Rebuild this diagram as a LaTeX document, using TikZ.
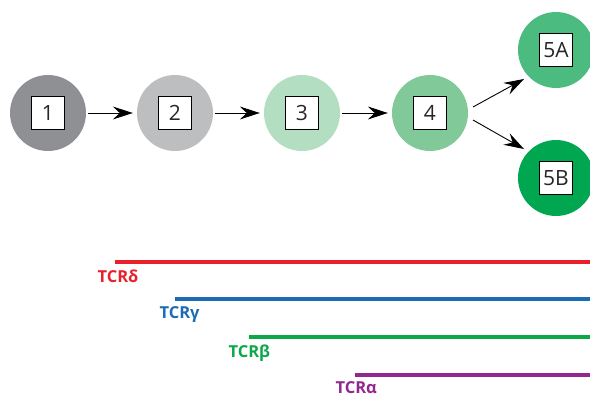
\documentclass[tikz,border=0pt]{standalone}
\usepackage{fontspec}
\setmainfont{Open Sans}
\usetikzlibrary{arrows.meta}
\definecolor{cOne}{HTML}{8F9094}
\definecolor{cTwo}{HTML}{BDBEC0}
\definecolor{cThree}{HTML}{B4DEC2}
\definecolor{cFour}{HTML}{82C99A}
\definecolor{cFiveA}{HTML}{4BBB7F}
\definecolor{cFiveB}{HTML}{00A650}
\definecolor{tcrRed}{HTML}{E8202A}
\definecolor{tcrBlue}{HTML}{1A6DB5}
\definecolor{tcrGreen}{HTML}{0BA84A}
\definecolor{tcrPurple}{HTML}{92278F}
\tikzset{
  stage/.style={circle, minimum size=76pt, inner sep=0pt},
  tag/.style={draw=black, line width=0.9pt, fill=white, minimum size=33pt,
    inner sep=0pt, font=\fontsize{21}{21}\selectfont, text=black!85},
  flow/.style={line width=0.9pt, -{Stealth[length=20pt, width=13pt, inset=7pt]}},
  bar/.style={line width=3.5pt},
  barlabel/.style={font=\fontsize{16.5}{16.5}\selectfont\bfseries, anchor=base west},
}
\begin{document}
\begin{tikzpicture}[x=1pt, y=-1pt]
\useasboundingbox (0,0) rectangle (590,396);
% developmental stages
\node[stage, fill=cOne]   (s1)  at (48,113) {};
\node[stage, fill=cTwo]   (s2)  at (175,113) {};
\node[stage, fill=cThree] (s3)  at (302,113) {};
\node[stage, fill=cFour]  (s4)  at (430,113) {};
\node[stage, fill=cFiveA] (s5a) at (556,50) {};
\node[stage, fill=cFiveB] (s5b) at (556,178) {};
\node[tag] (t1)  at (s1)  {1};
\node[tag] (t2)  at (s2)  {2};
\node[tag] (t3)  at (s3)  {3};
\node[tag] (t4)  at (s4)  {4};
\node[tag] (t5a) at (s5a) {5A};
\node[tag] (t5b) at (s5b) {5B};
% transitions
\draw[flow] ([xshift=2pt]s1.east) -- ([xshift=-4pt]s2.west);
\draw[flow] ([xshift=2pt]s2.east) -- ([xshift=-4pt]s3.west);
\draw[flow] ([xshift=2pt]s3.east) -- ([xshift=-4pt]s4.west);
\coordinate (up0) at (473,107);
\coordinate (up1) at (524,79);
\coordinate (dn0) at (473,120);
\coordinate (dn1) at (524,149);
\draw[flow] (up0) -- (up1);
\draw[flow] (dn0) -- (dn1);
% receptor chain expression
\coordinate (dEnd) at (590,262);
\coordinate (gEnd) at (590,299);
\coordinate (bEnd) at (590,337);
\coordinate (aEnd) at (590,375);
\coordinate (dStart) at (115,262);
\coordinate (gStart) at (175,299);
\coordinate (bStart) at (249,337);
\coordinate (aStart) at (355,375);
\draw[bar, tcrRed] (dStart) -- (dEnd);
\draw[bar, tcrBlue] (gStart) -- (gEnd);
\draw[bar, tcrGreen] (bStart) -- (bEnd);
\draw[bar, tcrPurple] (aStart) -- (aEnd);
\node[barlabel, text=tcrRed]    (ld) at (94,282)  {TCRδ};
\node[barlabel, text=tcrBlue]   (lg) at (156,318) {TCRγ};
\node[barlabel, text=tcrGreen]  (lb) at (225,357) {TCRβ};
\node[barlabel, text=tcrPurple] (la) at (332,393) {TCRα};
\end{tikzpicture}
\end{document}
